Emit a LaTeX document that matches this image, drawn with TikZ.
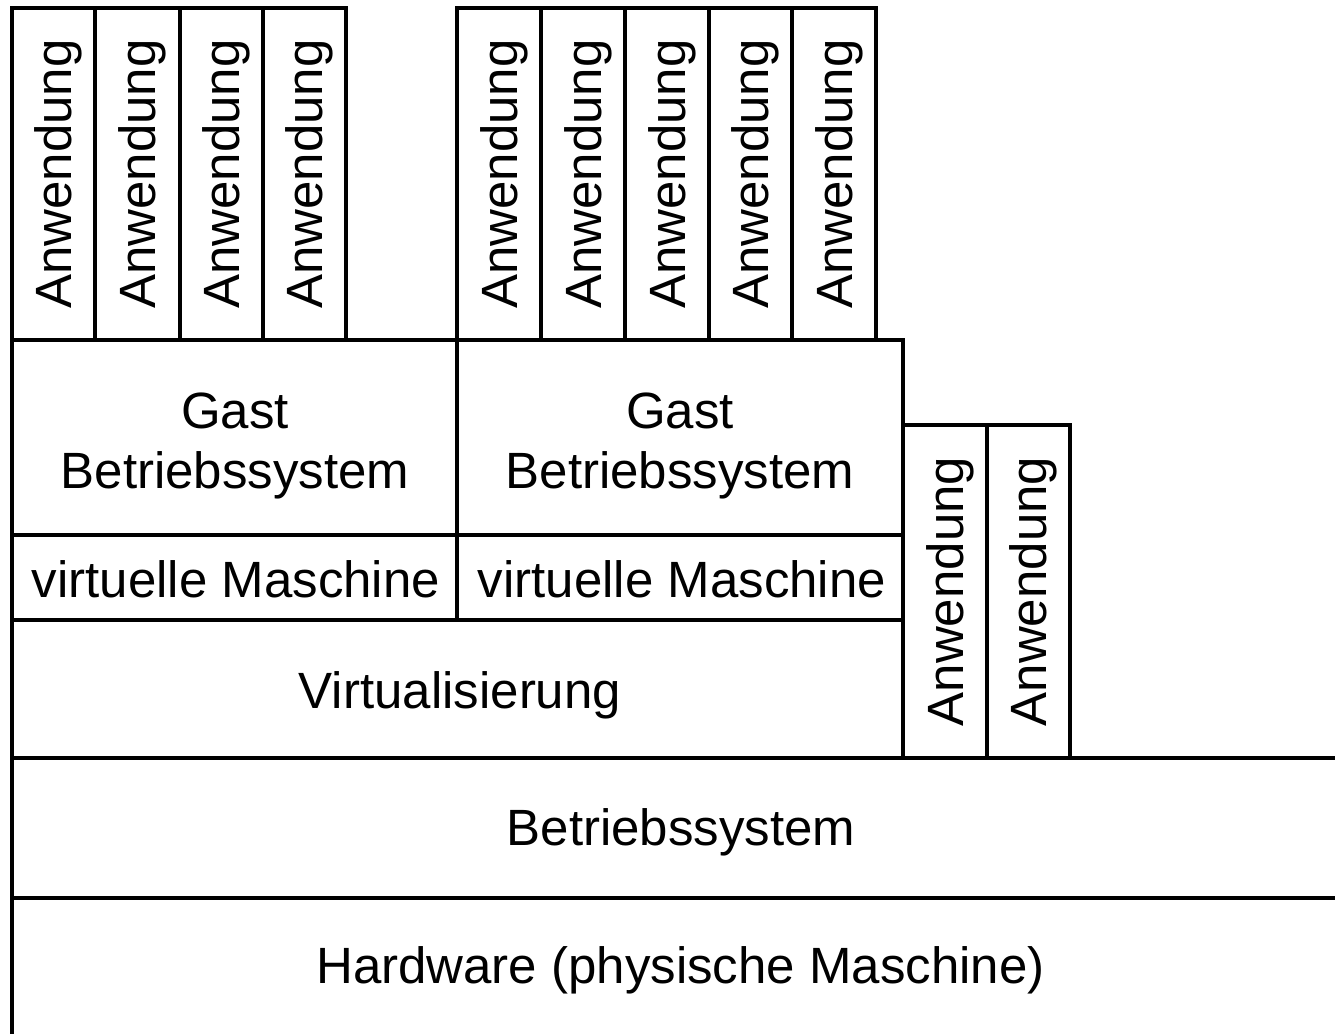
\documentclass[tikz,border=0pt]{standalone}
\usepackage{fontspec}
\setmainfont{Liberation Sans}
\begin{document}
\begin{tikzpicture}[x=1pt,y=-1pt,
  box/.style={draw=black, line width=4.3pt, line join=miter},
  lbl/.style={anchor=base, inner sep=0pt, font=\fontsize{51}{61}\selectfont},
  app/.style={lbl, rotate=90}]
\useasboundingbox (0,0) rectangle (1335,1033);
\clip (0,0) rectangle (1335,1033);

% applications on the first guest system
\foreach \a/\b [count=\i] in {12/95,95/180,180/263,263/346}{
  \draw[box] (\a,8) rectangle (\b,340);
  \node[app] (appL\i) at ({(\a+\b)/2+18},174) {Anwendung};
}
% applications on the second guest system
\foreach \a/\b [count=\i] in {457/541,541/625,625/709,709/792,792/876}{
  \draw[box] (\a,8) rectangle (\b,340);
  \node[app] (appR\i) at ({(\a+\b)/2+18},174) {Anwendung};
}
% applications running directly on the host system
\foreach \a/\b [count=\i] in {903/987,987/1070}{
  \draw[box] (\a,425) rectangle (\b,758);
  \node[app] (appH\i) at ({(\a+\b)/2+18},591.5) {Anwendung};
}

% guest operating systems
\draw[box] (12,340) rectangle (457,535);
\draw[box] (457,340) rectangle (903,535);
\node[lbl] (gastL1) at (235,428) {Gast};
\node[lbl] (gastL2) at (235,488) {Betriebssystem};
\node[lbl] (gastR1) at (680,428) {Gast};
\node[lbl] (gastR2) at (680,488) {Betriebssystem};

% virtual machines
\draw[box] (12,535) rectangle (457,620);
\draw[box] (457,535) rectangle (903,620);
\node[lbl] (vmL) at (236,597) {virtuelle Maschine};
\node[lbl] (vmR) at (682,597) {virtuelle Maschine};

% virtualisation layer
\draw[box] (12,620) rectangle (903,758);
\node[lbl] (virt) at (460,708) {Virtualisierung};

% host operating system and hardware
\draw[box] (12,758) rectangle (1360,898);
\node[lbl] (host) at (681,845) {Betriebssystem};
\draw[box] (12,898) rectangle (1360,1060);
\node[lbl] (hw) at (680.5,983) {Hardware (physische Maschine)};
\end{tikzpicture}
\end{document}
